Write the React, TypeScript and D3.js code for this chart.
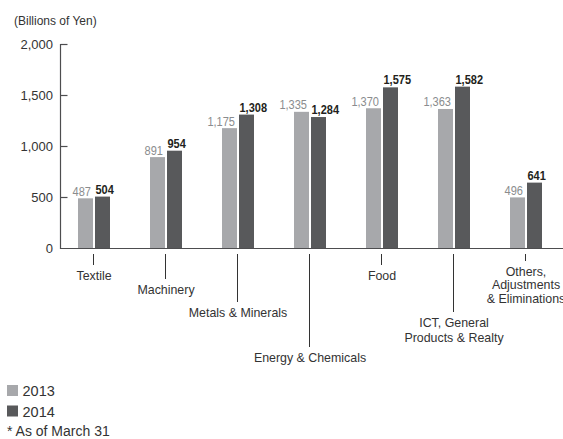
import React from "react";
import * as d3 from "d3";

// Segment values, billions of yen
const categories = [
  "Textile",
  "Machinery",
  "Metals & Minerals",
  "Energy & Chemicals",
  "Food",
  "ICT, General\nProducts & Realty",
  "Others,\nAdjustments\n& Eliminations",
];
const values2013 = [487, 891, 1175, 1335, 1370, 1363, 496];
const values2014 = [504, 954, 1308, 1284, 1575, 1582, 641];
const yTicks = [0, 500, 1000, 1500, 2000];
const seriesNames = ["2013", "2014"];

// Leader line ends (y) for the staggered category labels
const leaderEnds = [265, 279, 302, 347, 265, 312, 261];

const W = 563;
const H = 439;
const FONT = "'Liberation Sans', Arial, Helvetica, sans-serif";
const LIGHT = "#a7a8ab";
const DARK = "#58595b";
const AXIS = "#4d4d4f";

export default function App() {
  const x = d3.scaleBand<string>().domain(categories).range([58, 562]).padding(0);
  const y = d3.scaleLinear().domain([0, 2000]).range([248, 44]);
  const fmt = d3.format(",");
  const barW = 15;
  const gap = 1;
  const axisX = 60.5;

  return (
    <svg
      width={W}
      height={H}
      style={{ position: "absolute", left: 0, top: 0, background: "#fff" }}
      fontFamily={FONT}
    >
      <text x={14} y={25} fontSize={12} fill="#333">
        (Billions of Yen)
      </text>

      {/* value axis */}
      <line x1={axisX} x2={axisX} y1={y(2000)} y2={y(0)} stroke={AXIS} strokeWidth={1.2} />
      {yTicks.map((t) => (
        <g key={t}>
          {t > 0 && (
            <line x1={axisX} x2={axisX + 7} y1={y(t) + 0.5} y2={y(t) + 0.5} stroke={AXIS} strokeWidth={1.2} />
          )}
          <text x={53} y={y(t) + 4.5} fontSize={13} textAnchor="end" fill="#333">
            {fmt(t)}
          </text>
        </g>
      ))}

      {/* bars with condensed value labels */}
      {categories.map((c, i) => {
        const cx = (x(c) as number) + x.bandwidth() / 2;
        const a = values2013[i];
        const b = values2014[i];
        return (
          <g key={c}>
            <rect x={cx - gap - barW} y={y(a)} width={barW} height={y(0) - y(a)} fill={LIGHT} />
            <rect x={cx + gap} y={y(b)} width={barW} height={y(0) - y(b)} fill={DARK} />
            <text
              transform={`translate(${cx - gap - 2},${y(a) - 2.5}) scale(0.85,1)`}
              fontSize={13}
              textAnchor="end"
              fill="#8a8c8e"
            >
              {fmt(a)}
            </text>
            <text
              transform={`translate(${cx + gap + 0.5},${y(b) - 3}) scale(0.88,1)`}
              fontSize={12.5}
              fontWeight="bold"
              fill="#231f20"
            >
              {fmt(b)}
            </text>
          </g>
        );
      })}

      {/* baseline */}
      <line x1={axisX - 0.6} x2={W} y1={y(0) + 0.5} y2={y(0) + 0.5} stroke={AXIS} strokeWidth={1.2} />

      {/* category leader lines and labels */}
      {categories.map((c, i) => {
        const cx = Math.round((x(c) as number) + x.bandwidth() / 2) - 0.5;
        const end = leaderEnds[i];
        const lines = c.split("\n");
        const spacing = lines.length > 2 ? 13.5 : 15;
        return (
          <g key={c + "-lbl"}>
            <line x1={cx} x2={cx} y1={254} y2={end} stroke="#333" strokeWidth={1} />
            {lines.map((ln, k) => (
              <text
                key={k}
                x={cx + 0.5}
                y={end + 14.5 + k * spacing}
                fontSize={12.4}
                textAnchor="middle"
                fill="#333"
              >
                {ln}
              </text>
            ))}
          </g>
        );
      })}

      {/* legend */}
      {seriesNames.map((s, i) => (
        <g key={s}>
          <rect x={7} y={385 + i * 20.5} width={11} height={11} fill={i === 0 ? LIGHT : DARK} />
          <text x={22.5} y={396 + i * 20.5} fontSize={14.5} fill="#333">
            {s}
          </text>
        </g>
      ))}
      <text x={7} y={435.5} fontSize={14} fill="#333">
        * As of March 31
      </text>
    </svg>
  );
}
